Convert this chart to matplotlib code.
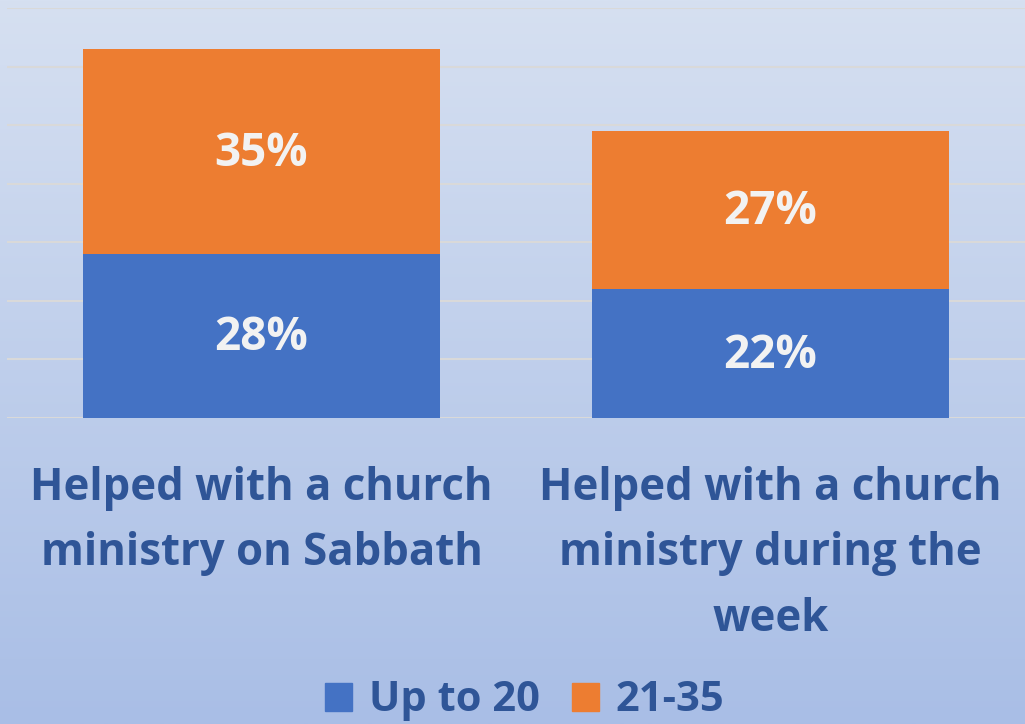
import numpy as np
import matplotlib.pyplot as plt
from matplotlib.patches import Patch

# Données
categories = ["Helped with a church\nministry on Sabbath",
              "Helped with a church\nministry during the\nweek"]
up_to_20 = [28, 22]
age_21_35 = [35, 27]
series_names = ["Up to 20", "21-35"]

blue = "#4472c4"
orange = "#ed7d31"
text_blue = "#2f5597"
font = "Open Sans"

fig = plt.figure(figsize=(10.25, 7.24), dpi=100)

# Fond en dégradé
bg = fig.add_axes([0, 0, 1, 1], zorder=-10)
top_c = np.array([214, 224, 241]) / 255
bot_c = np.array([169, 190, 230]) / 255
t = np.linspace(0, 1, 256)[:, None]
grad = top_c[None, :] * (1 - t) + bot_c[None, :] * t
bg.imshow(grad[:, None, :], aspect="auto", extent=[0, 1, 0, 1])
bg.axis("off")

ax = fig.add_axes([0.0068, 0.4227, 0.9932, 0.5663])
ax.set_facecolor("none")

x = np.arange(len(categories))
ax.bar(x, up_to_20, width=0.7, color=blue, zorder=3)
ax.bar(x, age_21_35, width=0.7, bottom=up_to_20, color=orange, zorder=3)

for i in range(len(categories)):
    ax.text(x[i], up_to_20[i] / 2 - 0.3, f"{up_to_20[i]}%", ha="center", va="center",
            color="#f2f2f2", fontsize=33, fontweight="bold", family=font, zorder=4)
    ax.text(x[i], up_to_20[i] + age_21_35[i] / 2 - 0.3, f"{age_21_35[i]}%", ha="center",
            va="center", color="#f2f2f2", fontsize=33, fontweight="bold",
            family=font, zorder=4)

ax.set_xlim(-0.5, 1.5)
ax.set_ylim(0, 70)
ax.set_yticks(np.arange(0, 71, 10))
ax.yaxis.grid(True, color="#d9d9d9", linewidth=1.5, zorder=0)
ax.tick_params(left=False, labelleft=False, bottom=False)
for s in ax.spines.values():
    s.set_visible(False)

ax.set_xticks(x)
ax.set_xticklabels(categories, fontsize=31.5, fontweight="bold", family=font,
                   color=text_blue, linespacing=1.6)
ax.tick_params(axis="x", pad=31)

handles = [Patch(color=blue), Patch(color=orange)]
fig.legend(handles, series_names, loc="lower center", ncol=2, frameon=False,
           bbox_to_anchor=(0.512, -0.048), handlelength=0.65, handleheight=0.65,
           handletextpad=0.4, columnspacing=0.78,
           prop={"family": font, "weight": "bold", "size": 30},
           labelcolor=text_blue)

fig.savefig("out.png", dpi=100)
